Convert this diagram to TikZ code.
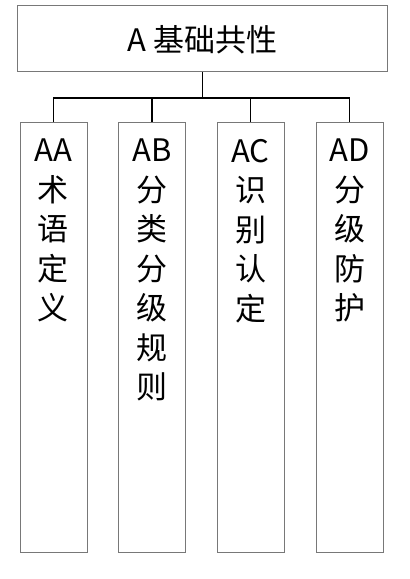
\documentclass[tikz,border=0pt]{standalone}
\usepackage{fontspec}
\newfontfamily\cjk{Noto Sans CJK SC}
\definecolor{boxgray}{RGB}{120,120,120}
\begin{document}
\begin{tikzpicture}[x=1pt,y=-1pt,
  box/.style={draw=boxgray,line width=1pt,fill=white,inner sep=0pt},
  colbox/.style={box,minimum width=67pt,minimum height=430pt,anchor=north},
  coltext/.style={anchor=north,align=center,font=\cjk\fontsize{31}{39.5}\selectfont,inner sep=0pt},
  conn/.style={draw=black,line width=1.8pt}]
\useasboundingbox (0,0) rectangle (410,579);
\node[box,minimum width=370pt,minimum height=66pt,anchor=north west] (top) at (17,5) {};
\node[font=\cjk\fontsize{31}{36}\selectfont,inner sep=0pt] (tt) at ([yshift=-1pt]top.center) {A 基础共性};
\node[colbox] (c1) at (53.5,122) {};
\node[colbox] (c2) at (152,122) {};
\node[colbox] (c3) at (250.5,122) {};
\node[colbox] (c4) at (349.5,122) {};
\node[coltext] (t1) at ([yshift=-17pt]c1.north) {AA\\术\\语\\定\\义};
\node[coltext] (t2) at ([yshift=-17pt]c2.north) {AB\\分\\类\\分\\级\\规\\则};
\node[coltext] (t3) at ([yshift=-17pt]c3.north) {AC\\识\\别\\认\\定};
\node[coltext] (t4) at ([yshift=-17pt]c4.north) {AD\\分\\级\\防\\护};
\coordinate (j) at ([yshift=-26pt]top.south);
\draw[conn] (top.south) -- (j);
\draw[conn] (j) -| (c1.north);
\draw[conn] (j) -| (c2.north);
\draw[conn] (j) -| (c3.north);
\draw[conn] (j) -| (c4.north);
\end{tikzpicture}
\end{document}
